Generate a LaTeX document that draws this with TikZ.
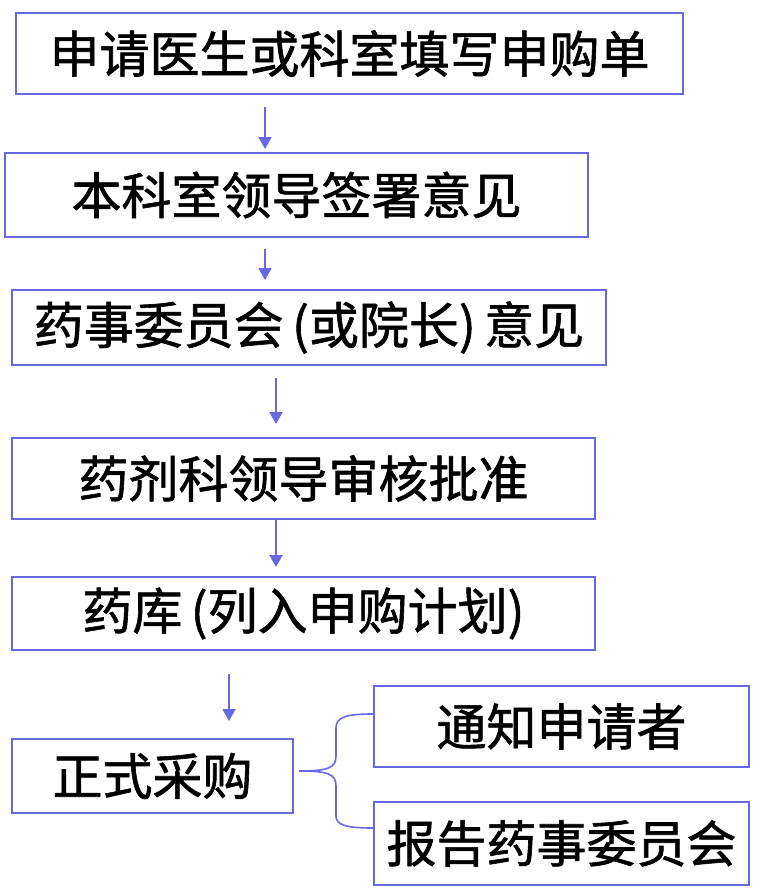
\documentclass[tikz,border=0pt]{standalone}
\usepackage{fontspec}
\newfontfamily\cjk[FakeBold=1.2]{Noto Sans CJK SC}
\usepackage{xcolor}
\usepackage{tikz}
\usetikzlibrary{arrows.meta,positioning,calc}
\definecolor{flowblue}{RGB}{104,104,224}
\tikzset{
    box/.style={rectangle, draw=flowblue, line width=2pt, inner sep=0pt,
                font=\cjk\fontsize{50}{52}\selectfont, text centered},
    line/.style={draw=flowblue, line width=2pt, -{Triangle[length=12pt,width=13pt]}},
    brace/.style={draw=flowblue, line width=1.6pt},
}
\begin{document}
\begin{tikzpicture}[x=1pt, y=-1pt]
        \useasboundingbox (0,0) rectangle (775,888);
        \node [box, minimum width=667pt, minimum height=81pt] (apply)     at (349.5,53.5) {申请医生或科室填写申购单};
        \node [box, minimum width=583pt, minimum height=84pt] (deptsign)  at (296.5,195)  {本科室领导签署意见};
        \node [box, minimum width=594pt, minimum height=75pt] (committee) at (309,327.5)  {药事委员会\,(或院长)\,意见};
        \node [box, minimum width=583pt, minimum height=81pt] (pharmhead) at (303.5,478.5) {药剂科领导审核批准};
        \node [box, minimum width=583pt, minimum height=73pt] (store)     at (303.5,613.5) {药库\,(列入申购计划)};
        \node [box, minimum width=281pt, minimum height=74pt] (purchase)  at (152.5,776)  {正式采购};
        \node [box, minimum width=375pt, minimum height=81pt] (notify)    at (561.5,726.5) {通知申请者};
        \node [box, minimum width=375pt, minimum height=83pt] (report)    at (561.5,843.5) {报告药事委员会};
        % flow arrows (they stop short of the boxes)
        \draw[line, shorten <=12pt, shorten >=3pt]  (apply.south -| 265,0) -- (deptsign.north -| 265,0);
        \draw[line, shorten <=11pt, shorten >=9pt]  (deptsign.south -| 265,0) -- (committee.north -| 265,0);
        \draw[line, shorten <=12pt, shorten >=13pt] (committee.south -| 276,0) -- (pharmhead.north -| 276,0);
        \draw[line, shorten >=9pt]                  (pharmhead.south -| 276,0) -- (store.north -| 276,0);
        \draw[line, shorten <=23pt, shorten >=17pt] (store.south -| 229,0) -- (purchase.north -| 229,0);
        % brace to the two results
        \draw[brace] ([xshift=5pt,yshift=5pt]purchase.east) .. controls (328,771) and (336,768) .. (336,756)
            -- (336,728) .. controls (336,717) and (346,714) .. ([yshift=12.5pt]notify.west);
        \draw[brace] ([xshift=5pt,yshift=5pt]purchase.east) .. controls (328,771) and (336,774) .. (336,786)
            -- (336,816) .. controls (336,825) and (346,828) .. ([yshift=15.5pt]report.west);
    \end{tikzpicture}
\end{document}
